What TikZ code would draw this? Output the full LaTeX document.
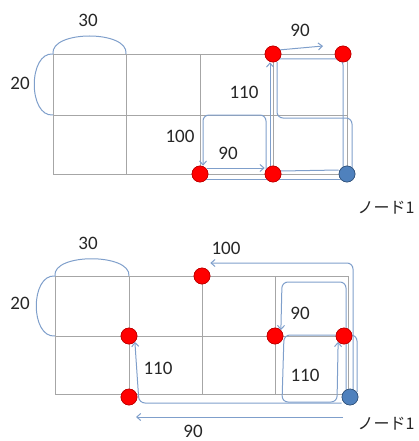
\documentclass[tikz,border=0pt]{standalone}
\usepackage{fontspec}
\setmainfont{Carlito}
\newfontfamily\jpfont{Noto Sans CJK JP}
\usetikzlibrary{arrows.meta}
\definecolor{gridgray}{HTML}{A6A6A6}
\definecolor{pathblue}{HTML}{7F9FCB}
\definecolor{nodered}{HTML}{FF0000}
\definecolor{nodeblue}{HTML}{4F81BD}

\begin{document}
\begin{tikzpicture}[x=1pt,y=-1pt,>={Straight Barb[length=4pt,width=7pt]},
  gridline/.style={draw=gridgray,line width=0.8pt},
  route/.style={draw=pathblue,line width=1pt,rounded corners=6pt},
  redpt/.style={circle,fill=nodered,draw=red!75!black,line width=0.6pt,minimum size=16pt,inner sep=0pt},
  startpt/.style={circle,fill=nodeblue,draw=nodeblue!65!black,line width=0.6pt,minimum size=16pt,inner sep=0pt},
  lbl/.style={font=\fontsize{19}{22}\selectfont,text=black!85}]
\useasboundingbox (0,0) rectangle (418,441);

% grids
\foreach \x in {53,126,200,273,347} \draw[gridline] (\x,54) -- (\x,174);
\foreach \y in {54,115,174} \draw[gridline] (53,\y) -- (347,\y);
\foreach \x in {55,129,202,275,348} \draw[gridline] (\x,276) -- (\x,394);
\foreach \y in {276,336,394} \draw[gridline] (55,\y) -- (348,\y);

% size marks
\draw[route] (53,54) .. controls (50,30) and (129,30) .. (126,54);
\draw[route] (53,54) .. controls (28,52) and (28,117) .. (53,115);
\draw[route] (55,276) .. controls (52,253) and (131,253) .. (129,276);
\draw[route] (55,276) .. controls (30,274) and (30,338) .. (55,336);

% upper panel
\node[redpt] (a1) at (273,54) {};
\node[redpt] (a2) at (343,54) {};
\node[redpt] (a3) at (200,174) {};
\node[redpt] (a4) at (273,174) {};
\node[startpt] (a0) at (347,174) {};
\coordinate (a1tip) at (323,46);
\draw[route,->] (a1.30) -- (a1tip);
\draw[route] (279,59) -- (343,59) -- (343,168);
\draw[route] (277,62) -- (277,118) -- (352,118) -- (352,168);
\draw[route,->] (270,168) -- (a1.south -| 270,0);
\draw[route,->] (266,170) -- (266,115) -- (203,115) -- (a3.north -| 203,0);
\draw[route,->] (207,168) -- (a4.west |- 0,168);
\draw[route] (a3.south east |- 0,179) -- (a0.south west |- 0,179);
\draw[route] (281,171) -- (a0.west |- 0,170);
\node[redpt] at (a1) {};
\node[redpt] at (a2) {};
\node[redpt] at (a3) {};
\node[redpt] at (a4) {};
\node[startpt] at (a0) {};

% lower panel
\node[redpt] (b1) at (202,276) {};
\node[redpt] (b2) at (129,336) {};
\node[redpt] (b3) at (275,336) {};
\node[redpt] (b4) at (344,336) {};
\node[redpt] (b5) at (129,397) {};
\node[startpt] (b0) at (350,397) {};
\draw[route,->] (353,390) -- (353,263) -- (b1.east |- 0,263);
\draw[route,->] (346,390) -- (346,282) -- (282,282) -- (b3.north east);
\draw[route,->] (357,392) -- (357,335) -- (284,335) -- (282,402) -- (337,402) -- (b4.south west);
\draw[route,->] (b0.west |- 0,403) -- (139,403) -- (b2.south east);
\coordinate (b5tip) at (136,417);
\draw[route,->] (343,417) -- (b5tip);
\node[redpt] at (b1) {};
\node[redpt] at (b2) {};
\node[redpt] at (b3) {};
\node[redpt] at (b4) {};
\node[redpt] at (b5) {};
\node[startpt] at (b0) {};

% labels
\node[lbl] (w1) at (88,20) {30};
\node[lbl] (h1) at (20,83) {20};
\node[lbl] (c1) at (300,30) {90};
\node[lbl] (c2) at (244,92) {110};
\node[lbl] (c3) at (180,136) {100};
\node[lbl] (c4) at (228,153) {90};
\node[lbl,font=\jpfont\fontsize{16}{19}\selectfont] (s1) at (386,208) {ノード1};
\node[lbl] (w2) at (88,243) {30};
\node[lbl] (h2) at (20,303) {20};
\node[lbl] (d1) at (226,248) {100};
\node[lbl] (d2) at (300,313) {90};
\node[lbl] (d3) at (158,368) {110};
\node[lbl] (d4) at (305,375) {110};
\node[lbl] (d5) at (193,431) {90};
\node[lbl,font=\jpfont\fontsize{16}{19}\selectfont] (s2) at (386,424) {ノード1};
\end{tikzpicture}
\end{document}
